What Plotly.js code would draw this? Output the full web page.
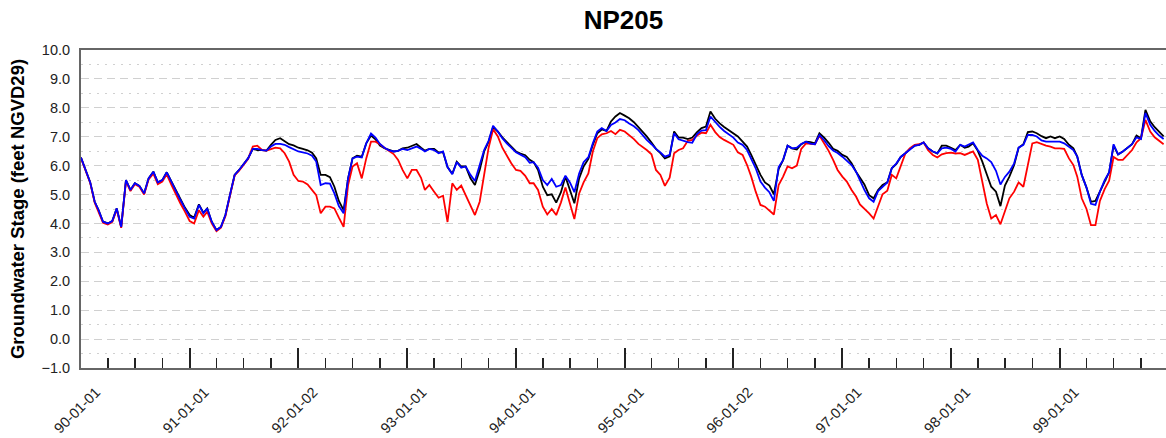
<!DOCTYPE html>
<html>
<head>
<meta charset="utf-8">
<script src="https://cdn.plot.ly/plotly-3.0.1.min.js"></script>
<style>html,body{margin:0;padding:0;background:#fff}#chart{width:1166px;height:438px}</style>
</head>
<body>
<div id="chart"></div>
<script>
const dates = [
'1990-01-01','1990-01-16','1990-02-01','1990-02-16','1990-03-01','1990-03-16','1990-04-01','1990-04-16','1990-05-01','1990-05-16','1990-06-01','1990-06-16','1990-07-01','1990-07-16','1990-08-01','1990-08-16','1990-09-01','1990-09-16','1990-10-01','1990-10-16','1990-11-01','1990-11-16','1990-12-01','1990-12-16',
'1991-01-01','1991-01-16','1991-02-01','1991-02-16','1991-03-01','1991-03-16','1991-04-01','1991-04-16','1991-05-01','1991-05-16','1991-06-01','1991-06-16','1991-07-01','1991-07-16','1991-08-01','1991-08-16','1991-09-01','1991-09-16','1991-10-01','1991-10-16','1991-11-01','1991-11-16','1991-12-01','1991-12-16',
'1992-01-01','1992-01-16','1992-02-01','1992-02-16','1992-03-01','1992-03-16','1992-04-01','1992-04-16','1992-05-01','1992-05-16','1992-06-01','1992-06-16','1992-07-01','1992-07-16','1992-08-01','1992-08-16','1992-09-01','1992-09-16','1992-10-01','1992-10-16','1992-11-01','1992-11-16','1992-12-01','1992-12-16',
'1993-01-01','1993-01-16','1993-02-01','1993-02-16','1993-03-01','1993-03-16','1993-04-01','1993-04-16','1993-05-01','1993-05-16','1993-06-01','1993-06-16','1993-07-01','1993-07-16','1993-08-01','1993-08-16','1993-09-01','1993-09-16','1993-10-01','1993-10-16','1993-11-01','1993-11-16','1993-12-01','1993-12-16',
'1994-01-01','1994-01-16','1994-02-01','1994-02-16','1994-03-01','1994-03-16','1994-04-01','1994-04-16','1994-05-01','1994-05-16','1994-06-01','1994-06-16','1994-07-01','1994-07-16','1994-08-01','1994-08-16','1994-09-01','1994-09-16','1994-10-01','1994-10-16','1994-11-01','1994-11-16','1994-12-01','1994-12-16',
'1995-01-01','1995-01-16','1995-02-01','1995-02-16','1995-03-01','1995-03-16','1995-04-01','1995-04-16','1995-05-01','1995-05-16','1995-06-01','1995-06-16','1995-07-01','1995-07-16','1995-08-01','1995-08-16','1995-09-01','1995-09-16','1995-10-01','1995-10-16','1995-11-01','1995-11-16','1995-12-01','1995-12-16',
'1996-01-01','1996-01-16','1996-02-01','1996-02-16','1996-03-01','1996-03-16','1996-04-01','1996-04-16','1996-05-01','1996-05-16','1996-06-01','1996-06-16','1996-07-01','1996-07-16','1996-08-01','1996-08-16','1996-09-01','1996-09-16','1996-10-01','1996-10-16','1996-11-01','1996-11-16','1996-12-01','1996-12-16',
'1997-01-01','1997-01-16','1997-02-01','1997-02-16','1997-03-01','1997-03-16','1997-04-01','1997-04-16','1997-05-01','1997-05-16','1997-06-01','1997-06-16','1997-07-01','1997-07-16','1997-08-01','1997-08-16','1997-09-01','1997-09-16','1997-10-01','1997-10-16','1997-11-01','1997-11-16','1997-12-01','1997-12-16',
'1998-01-01','1998-01-16','1998-02-01','1998-02-16','1998-03-01','1998-03-16','1998-04-01','1998-04-16','1998-05-01','1998-05-16','1998-06-01','1998-06-16','1998-07-01','1998-07-16','1998-08-01','1998-08-16','1998-09-01','1998-09-16','1998-10-01','1998-10-16','1998-11-01','1998-11-16','1998-12-01','1998-12-16',
'1999-01-01','1999-01-16','1999-02-01','1999-02-16','1999-03-01','1999-03-16','1999-04-01','1999-04-16','1999-05-01','1999-05-16','1999-06-01','1999-06-16','1999-07-01','1999-07-16','1999-08-01','1999-08-16','1999-09-01','1999-09-16','1999-10-01','1999-10-16','1999-11-01','1999-11-16','1999-12-01','1999-12-16'
];

const blackSeries = [
6.28,5.85,5.42,4.75,4.46,4.06,4.00,4.08,4.52,3.88,5.50,5.16,5.39,5.30,5.04,5.56,5.79,5.42,5.50,5.77,5.44,5.12,4.84,4.55,
4.29,4.20,4.66,4.37,4.52,4.06,3.77,3.88,4.29,4.98,5.68,5.85,6.05,6.25,6.58,6.54,6.54,6.52,6.72,6.89,6.95,6.83,6.74,6.70,
6.62,6.58,6.53,6.45,6.25,5.68,5.68,5.60,5.27,4.78,4.46,5.56,6.25,6.34,6.31,6.77,7.04,6.91,6.69,6.60,6.54,6.49,6.51,6.60,
6.62,6.69,6.75,6.62,6.52,6.58,6.58,6.46,6.46,5.95,5.72,6.14,5.97,5.97,5.56,5.33,5.85,6.49,6.83,7.33,7.18,6.98,6.81,6.64,
6.49,6.42,6.36,6.20,6.12,5.85,5.27,4.98,5.01,4.72,5.08,5.62,5.16,4.70,5.56,5.97,6.23,6.72,7.12,7.25,7.20,7.53,7.70,7.82,
7.73,7.64,7.50,7.34,7.18,7.01,6.80,6.58,6.43,6.25,6.32,7.18,6.97,6.97,6.92,6.97,7.16,7.30,7.35,7.87,7.62,7.46,7.34,7.23,
7.11,7.01,6.83,6.66,6.37,6.02,5.68,5.42,5.31,5.01,5.88,6.19,6.69,6.60,6.56,6.74,6.83,6.81,6.77,7.12,6.97,6.79,6.58,6.51,
6.37,6.30,6.08,5.79,5.58,5.35,4.98,4.87,5.16,5.33,5.42,5.91,6.05,6.30,6.43,6.58,6.69,6.72,6.80,6.60,6.49,6.42,6.69,6.69,
6.62,6.54,6.72,6.62,6.66,6.77,6.51,6.14,5.70,5.27,5.10,4.60,5.31,5.62,6.02,6.62,6.74,7.16,7.18,7.12,7.02,6.95,7.01,6.95,
7.01,6.92,6.72,6.60,6.31,5.68,5.24,4.75,4.78,5.10,5.50,5.77,6.69,6.39,6.49,6.60,6.74,7.04,6.95,7.93,7.53,7.33,7.16,7.01
];

const blueSeries = [
6.28,5.85,5.42,4.75,4.46,4.06,4.00,4.08,4.52,3.88,5.50,5.16,5.39,5.30,5.04,5.56,5.79,5.42,5.50,5.77,5.42,5.10,4.81,4.52,
4.23,4.17,4.64,4.35,4.52,4.06,3.77,3.88,4.29,4.98,5.68,5.85,6.05,6.25,6.58,6.58,6.54,6.52,6.66,6.75,6.75,6.72,6.64,6.58,
6.49,6.46,6.42,6.34,6.14,5.33,5.39,5.38,5.04,4.60,4.35,5.56,6.25,6.31,6.28,6.77,7.11,6.97,6.75,6.62,6.53,6.49,6.51,6.58,
6.54,6.60,6.66,6.58,6.49,6.58,6.54,6.43,6.49,5.95,5.70,6.12,5.93,5.97,5.68,5.47,6.00,6.54,6.86,7.38,7.18,6.95,6.77,6.62,
6.46,6.38,6.29,6.10,6.12,5.93,5.50,5.33,5.54,5.27,5.33,5.65,5.42,5.08,5.73,6.12,6.29,6.77,7.18,7.30,7.20,7.41,7.49,7.61,
7.57,7.46,7.36,7.23,7.06,6.89,6.74,6.58,6.46,6.31,6.37,7.12,6.91,6.86,6.81,6.79,7.09,7.21,7.23,7.70,7.50,7.34,7.20,7.09,
6.97,6.80,6.72,6.54,6.25,5.91,5.45,5.24,5.08,4.78,5.95,6.19,6.69,6.60,6.62,6.75,6.83,6.76,6.74,7.06,6.88,6.67,6.52,6.44,
6.31,6.17,6.02,5.79,5.47,5.16,4.87,4.75,5.12,5.28,5.42,5.91,6.07,6.30,6.43,6.58,6.69,6.72,6.80,6.60,6.49,6.43,6.60,6.62,
6.58,6.49,6.72,6.66,6.72,6.80,6.54,6.34,6.25,6.12,5.82,5.35,5.61,5.79,6.08,6.62,6.72,7.06,7.06,7.01,6.87,6.83,6.83,6.83,
6.83,6.77,6.66,6.54,6.31,5.68,5.24,4.68,4.64,5.10,5.50,5.77,6.74,6.39,6.49,6.60,6.74,6.98,6.92,7.82,7.41,7.20,7.04,6.92
];

const redSeries = [
6.26,5.83,5.40,4.72,4.42,4.02,3.96,4.05,4.48,3.85,5.46,5.12,5.36,5.27,5.00,5.52,5.72,5.36,5.45,5.70,5.33,4.98,4.69,4.41,
4.08,4.00,4.46,4.23,4.41,4.00,3.73,3.85,4.25,4.95,5.66,5.83,6.03,6.23,6.66,6.69,6.54,6.52,6.57,6.62,6.60,6.43,6.14,5.68,
5.47,5.45,5.35,5.16,4.98,4.35,4.58,4.58,4.52,4.20,3.88,5.33,5.97,6.08,5.56,6.25,6.83,6.83,6.74,6.62,6.52,6.40,6.20,5.85,
5.56,5.85,5.85,5.58,5.16,5.33,5.10,4.89,4.96,4.05,5.39,5.16,5.31,4.98,4.58,4.29,4.75,5.68,6.62,7.26,7.01,6.62,6.34,6.08,
5.85,5.82,5.65,5.39,5.39,5.16,4.58,4.31,4.50,4.29,4.73,5.24,4.69,4.15,5.04,5.42,5.73,6.49,6.95,7.08,7.12,7.20,7.09,7.24,
7.18,7.06,6.92,6.75,6.66,6.54,6.39,5.85,5.68,5.30,5.58,6.43,6.54,6.60,6.86,6.89,7.04,7.14,7.12,7.41,7.16,6.99,6.89,6.81,
6.72,6.46,6.37,6.02,5.62,5.10,4.64,4.58,4.46,4.31,5.33,5.62,5.97,5.91,6.00,6.58,6.77,6.76,6.74,7.04,6.77,6.51,6.20,5.85,
5.62,5.45,5.16,4.93,4.66,4.52,4.35,4.17,4.58,5.01,5.13,5.68,5.56,5.97,6.43,6.60,6.72,6.74,6.80,6.53,6.37,6.28,6.39,6.43,
6.45,6.42,6.43,6.37,6.43,6.49,6.20,5.39,4.69,4.17,4.29,3.97,4.43,4.87,5.10,5.42,5.27,6.02,6.77,6.81,6.74,6.69,6.66,6.60,
6.60,6.58,6.25,6.02,5.62,4.87,4.50,3.94,3.94,4.78,5.19,5.48,6.30,6.20,6.20,6.37,6.54,6.81,6.95,7.58,7.18,6.98,6.86,6.74
];

const tickDates = ['1990-01-01','1991-01-01','1992-01-01','1993-01-01','1994-01-01','1995-01-01','1996-01-01','1997-01-01','1998-01-01','1999-01-01'];
const tickLabels = ['90-01-01','91-01-01','92-01-02','93-01-01','94-01-01','95-01-01','96-01-02','97-01-01','98-01-01','99-01-01'];

const FONT = 'Liberation Sans, Arial, Helvetica, sans-serif';

const traces = [
  {x: dates, y: blackSeries, type: 'scatter', mode: 'lines', line: {color: '#000000', width: 1.8}, hoverinfo: 'skip'},
  {x: dates, y: redSeries, type: 'scatter', mode: 'lines', line: {color: '#ff0000', width: 1.8}, hoverinfo: 'skip'},
  {x: dates, y: blueSeries, type: 'scatter', mode: 'lines', line: {color: '#0000ff', width: 1.8}, hoverinfo: 'skip'}
];

const layout = {
  width: 1166, height: 438,
  margin: {l: 81, r: 0, t: 50, b: 70},
  paper_bgcolor: '#ffffff', plot_bgcolor: '#ffffff',
  font: {family: FONT, color: '#222'},
  showlegend: false,
  title: {text: '<b>NP205</b>', font: {family: FONT, size: 26, color: '#000'}, x: 0.5, xref: 'paper', xanchor: 'center', y: 0.955, yref: 'container', yanchor: 'middle'},
  xaxis: {
    type: 'date', range: ['1990-01-01', '1999-12-24'],
    tickmode: 'array', tickvals: tickDates, ticktext: tickLabels,
    tickangle: -45, ticks: 'inside', ticklen: 20, tickwidth: 2, tickcolor: '#222',
    ticklabelshift: 15, ticklabelstandoff: 8,
    tickfont: {family: FONT, size: 14.5, color: '#222'},
    showline: true, linecolor: '#666', linewidth: 2, mirror: true,
    showgrid: false, zeroline: false,
    minor: {tickmode: 'linear', tick0: '1990-01-01', dtick: 'M3', ticks: 'inside', ticklen: 10, tickwidth: 1.4, tickcolor: '#222', showgrid: false}
  },
  yaxis: {
    range: [-1, 10], tickmode: 'linear', tick0: 0, dtick: 1, tickformat: '.1f',
    ticks: '', ticklabelstandoff: 6,
    tickfont: {family: FONT, size: 14.5, color: '#222'},
    showline: true, linecolor: '#666', linewidth: 2,
    showgrid: true, gridcolor: '#d0d0d0', gridwidth: 1, griddash: '8px,5px',
    zeroline: false,
    minor: {tickmode: 'linear', tick0: 0.5, dtick: 1, showgrid: true, gridcolor: '#d0d0d0', gridwidth: 1, griddash: '2px,6px', ticks: ''},
    title: {text: '<b>Groundwater Stage (feet NGVD29)</b>', font: {family: FONT, size: 18.5, color: '#000'}, standoff: 12}
  }
};

Plotly.newPlot('chart', traces, layout, {displayModeBar: false, staticPlot: true});
</script>
</body>
</html>
